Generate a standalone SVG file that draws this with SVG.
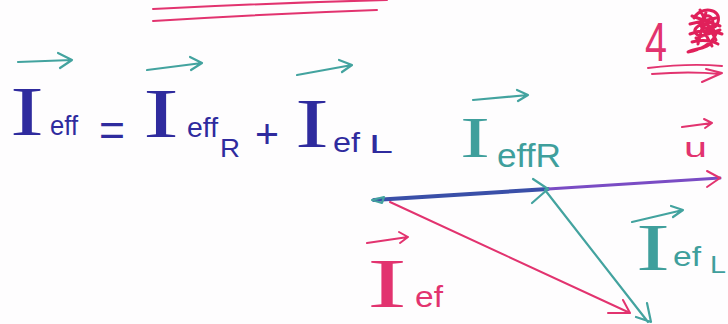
<svg xmlns="http://www.w3.org/2000/svg" width="728" height="324" viewBox="0 0 728 324">
<style>
.sans{font-family:"Liberation Sans",Arial,sans-serif}
.serif{font-family:"Liberation Serif","Times New Roman",serif}
.navy{fill:#2f2b9e}
.teal{fill:#3f9f9c}
.pink{fill:#e2336f}
.ln{fill:none;stroke-linecap:round;stroke-linejoin:round}
.sT{stroke:#43a39f;stroke-width:2.2}
.sP{stroke:#e2336f;stroke-width:2}
</style>
<rect width="728" height="324" fill="#fefdfe"/>
<g id="top-lines" class="ln sP">
<path d="M153 9 Q270 3 387 0"/>
<path d="M153 21 Q265 14 377 10"/>
</g>
<g id="equation">
<path class="ln sT" d="M18 62 L72 60 M58 53 L72 60 L60 68"/>
<text class="serif navy" x="10" y="135" font-size="70" textLength="34" lengthAdjust="spacingAndGlyphs">I</text>
<text class="sans navy" x="50" y="135" font-size="28" textLength="28" lengthAdjust="spacingAndGlyphs">eff</text>
<text class="sans navy" x="99" y="146" font-size="46" textLength="26" lengthAdjust="spacingAndGlyphs">=</text>
<path class="ln sT" d="M147 70 L202 63 M190 57 L202 63 L191 70"/>
<text class="serif navy" x="143" y="137" font-size="70" textLength="36" lengthAdjust="spacingAndGlyphs">I</text>
<text class="sans navy" x="187" y="137" font-size="28" textLength="31" lengthAdjust="spacingAndGlyphs">eff</text>
<text class="sans navy" x="220" y="157" font-size="26" textLength="20" lengthAdjust="spacingAndGlyphs">R</text>
<text class="sans navy" x="255" y="148" font-size="40" textLength="24" lengthAdjust="spacingAndGlyphs">+</text>
<path class="ln sT" d="M297 75 L352 65 M339 60 L352 65 L342 72"/>
<text class="serif navy" x="295" y="147" font-size="70" textLength="34" lengthAdjust="spacingAndGlyphs">I</text>
<text class="sans navy" x="333" y="152" font-size="28" textLength="27" lengthAdjust="spacingAndGlyphs">ef</text>
<text class="sans navy" x="369" y="153" font-size="26" textLength="24" lengthAdjust="spacingAndGlyphs">L</text>
</g>
<g id="page-number">
<text class="sans pink" x="645" y="61" font-size="56" textLength="22" lengthAdjust="spacingAndGlyphs">4</text>
<path class="ln" stroke="#e0205a" stroke-width="3" d="M694 18 C700 6 722 8 718 22 C716 32 698 30 702 20 C706 12 716 16 712 28 C708 40 690 36 696 28 C702 20 718 26 714 38 C710 50 694 48 688 52 C700 50 712 44 716 34 M690 34 C700 30 712 30 722 34 M692 42 C700 40 710 40 718 44 M700 24 L712 46 M706 12 L698 44 M692 16 L720 26 M690 24 L716 18 M700 10 L716 40 M696 38 L720 30"/>
<path class="ln sP" stroke-width="2.2" d="M648 68 Q690 63 722 66 M652 74 Q690 71 720 74 M706 69 L722 73 L702 82"/>
</g>
<g id="connectors">
<path class="ln" stroke="#3a4fa8" stroke-width="4" d="M374 200 L548 189"/>
<path class="ln" stroke="#7a4cc4" stroke-width="3" d="M548 189 L720 178"/>
<path class="ln sP" stroke-width="2.4" d="M707 171 L720 178 L707 187"/>
<path class="ln sT" stroke-width="2.6" d="M533 179 L548 189 L532 203"/>
<path class="ln sT" d="M372 200 L384 197 L382 203 Z"/>
<path class="ln sT" d="M545 190 L648 322 M647 303 L651 322 L636 317"/>
<path class="ln sP" d="M390 202 L630 313 M623 300 L630 313 L608 313"/>
</g>
<g id="label-IeffR">
<path class="ln sT" d="M473 100 L528 95 M517 90 L528 95 L518 101"/>
<text class="serif teal" x="460" y="157" font-size="56" textLength="30" lengthAdjust="spacingAndGlyphs">I</text>
<text class="sans teal" x="497" y="167" font-size="34" textLength="64" lengthAdjust="spacingAndGlyphs">effR</text>
</g>
<g id="label-u">
<path class="ln sP" d="M682 127 L712 123 M704 119 L712 123 L705 128"/>
<text class="sans pink" x="684" y="157" font-size="28" textLength="23" lengthAdjust="spacingAndGlyphs">u</text>
</g>
<g id="label-Ief">
<path class="ln sP" d="M367 243 L408 237 M399 232 L408 237 L400 243"/>
<text class="serif pink" x="367" y="307" font-size="70" textLength="40" lengthAdjust="spacingAndGlyphs">I</text>
<text class="sans pink" x="415" y="307" font-size="30" textLength="28" lengthAdjust="spacingAndGlyphs">ef</text>
</g>
<g id="label-IefL">
<path class="ln sT" d="M632 222 L683 210 M671 206 L683 210 L673 217"/>
<text class="serif teal" x="636" y="270" font-size="68" textLength="34" lengthAdjust="spacingAndGlyphs">I</text>
<text class="sans teal" x="673" y="266" font-size="28" textLength="28" lengthAdjust="spacingAndGlyphs">ef</text>
<text class="sans teal" x="710" y="273" font-size="24" textLength="16" lengthAdjust="spacingAndGlyphs">L</text>
</g>
</svg>
